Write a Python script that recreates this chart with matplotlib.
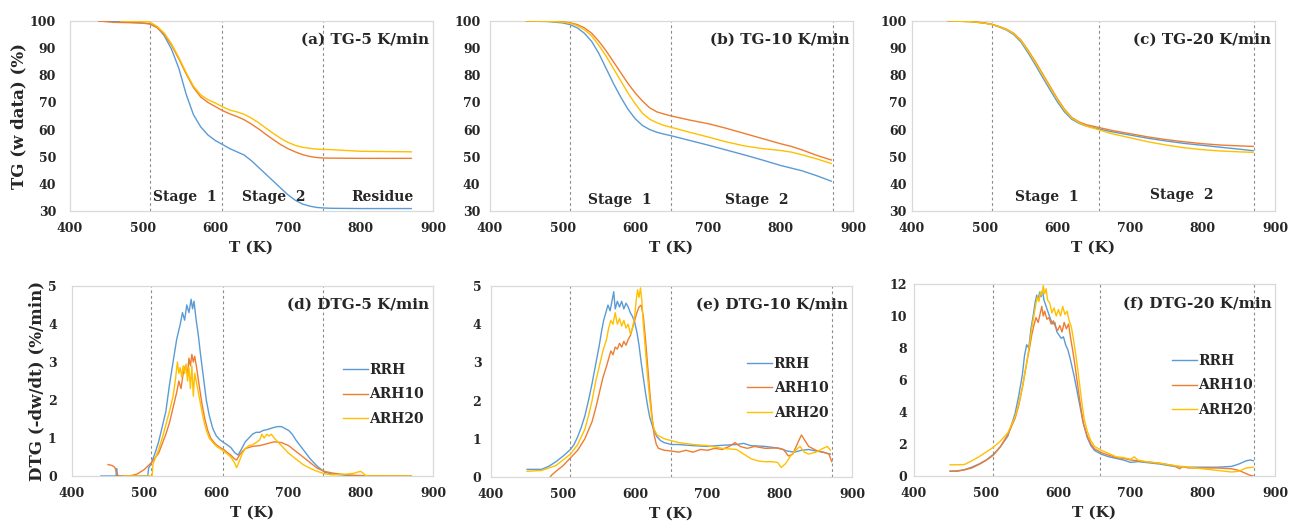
import matplotlib
matplotlib.use("Agg")
import matplotlib.pyplot as plt

# ---------------- data ----------------
series_names = ["RRH", "ARH10", "ARH20"]
series_colors = ["#5B9BD5", "#ED7D31", "#FFC000"]

# (a) TG 5 K/min
tg5_T = {
    "RRH": [440, 460, 480, 500, 510, 520, 530, 540, 550, 560, 570, 580, 590, 600, 610, 620, 630, 640, 650, 660,
            670, 680, 690, 700, 710, 720, 730, 740, 750, 760, 800, 870],
    "ARH10": [440, 460, 480, 500, 510, 520, 530, 540, 550, 560, 570, 580, 590, 600, 610, 620, 630, 640, 650, 660,
              670, 680, 690, 700, 710, 720, 730, 740, 750, 800, 870],
    "ARH20": [470, 480, 500, 510, 520, 530, 540, 550, 560, 570, 580, 590, 600, 610, 620, 630, 640, 650, 660, 670,
              680, 690, 700, 710, 720, 730, 740, 760, 800, 870],
}
tg5_w = {
    "RRH": [100, 99.8, 99.6, 99.3, 99.0, 97.8, 94.5, 89.5, 82.5, 73, 65.5, 61, 58, 56, 54.5, 53, 51.8, 50.6, 48.5, 46,
            43.5, 41, 38.5, 36, 34, 32.6, 31.8, 31.3, 31.1, 31, 30.9, 30.9],
    "ARH10": [100, 99.5, 99.4, 99.2, 98.9, 97.5, 95, 91, 86, 80.5, 75.5, 72, 70, 68.5, 67, 65.8, 64.8, 63.6, 62, 60.2,
              58.2, 56.3, 54.5, 53, 51.8, 50.8, 50.1, 49.7, 49.5, 49.4, 49.4],
    "ARH20": [100, 99.9, 99.8, 99.6, 98, 95.5, 91.5, 86.5, 81, 76, 72.8, 71, 69.8, 68.4, 67.2, 66.5, 65.6, 64.2, 62.5,
              60.5, 58.6, 56.8, 55.3, 54.2, 53.5, 53.1, 52.8, 52.6, 52, 51.8],
}

# (b) TG 10 K/min
tg10_T = [450, 480, 500, 510, 520, 530, 540, 550, 560, 570, 580, 590, 600, 610, 620, 630, 640, 650, 675, 700,
          725, 750, 775, 800, 815, 830, 850, 870]
tg10_w = {
    "RRH": [100, 99.8, 99.3, 98.7, 97.5, 95.5, 92.5, 88, 82.5, 77, 72, 67.5, 64, 61.5, 60, 59, 58.3, 57.7, 56, 54.3,
            52.5, 50.7, 48.8, 46.8, 45.8, 44.8, 43, 41],
    "ARH10": [100, 99.9, 99.7, 99.4, 98.7, 97.5, 95.5, 92.5, 89, 85, 81, 77, 73.5, 70.5, 68, 66.5, 65.7, 65, 63.5,
              62.2, 60.5, 58.6, 56.7, 54.8, 53.8, 52.5, 50.5, 48.8],
    "ARH20": [100, 99.9, 99.6, 99.2, 98.3, 96.8, 94.5, 91, 87, 82.5, 78, 73.5, 69.5, 66, 63.8, 62.5, 61.5, 60.8, 59,
              57.3, 55.5, 54, 53, 52.3, 51.7, 50.7, 49.2, 47.5],
}

# (c) TG 20 K/min
tg20_T = [450, 480, 500, 510, 520, 530, 540, 550, 560, 570, 580, 590, 600, 610, 620, 630, 640, 650, 675, 700,
          725, 750, 775, 800, 825, 850, 870]
tg20_w = {
    "RRH": [100, 99.8, 99.2, 98.7, 97.8, 96.7, 95, 92.3, 88.2, 83.8, 79.2, 74.7, 70.3, 66.5, 63.8, 62.3, 61.3, 60.7,
            59.2, 58, 56.8, 55.8, 54.9, 54.2, 53.5, 52.8, 52.2],
    "ARH10": [100, 99.8, 99.3, 98.8, 98, 97, 95.5, 93, 89.2, 85, 80.5, 76, 71.5, 67.5, 64.5, 62.8, 61.8, 61.2, 59.7,
              58.5, 57.3, 56.3, 55.5, 54.8, 54.3, 54, 53.8],
    "ARH20": [100, 99.8, 99.2, 98.7, 97.9, 96.9, 95.3, 92.8, 88.9, 84.6, 80.1, 75.6, 71.2, 67.2, 64.3, 62.5, 61.3,
              60.5, 58.5, 57, 55.5, 54.3, 53.3, 52.6, 52.1, 51.8, 51.6],
}

# (d) DTG 5 K/min
dtg5_T = {
    "RRH": [440, 461, 462, 463, 505, 506, 510, 515, 520, 525, 530, 535, 540, 545, 550, 553, 556, 559, 562, 565, 567,
            569, 572, 575, 578, 582, 586, 590, 595, 600, 605, 610, 615, 620, 625, 630, 635, 640, 645, 650, 655, 660,
            665, 670, 675, 680, 685, 690, 695, 700, 705, 710, 720, 730, 740, 750, 760, 780, 800, 870],
    "ARH10": [450, 455, 458, 460, 462, 465, 480, 490, 500, 510, 520, 530, 535, 540, 545, 548, 551, 554, 557, 560,
              562, 564, 566, 568, 570, 573, 576, 580, 584, 588, 592, 596, 600, 605, 610, 615, 620, 625, 628, 632,
              636, 640, 650, 660, 670, 680, 690, 700, 710, 720, 730, 740, 750, 760, 780, 800, 870],
    "ARH20": [470, 511, 512, 515, 520, 525, 530, 535, 540, 543, 546, 548, 550, 552, 554, 556, 558, 560, 562, 564,
              566, 568, 570, 572, 575, 578, 582, 586, 590, 595, 600, 605, 610, 615, 620, 625, 628, 632, 636, 640,
              645, 650, 655, 660, 663, 666, 670, 673, 676, 680, 685, 690, 700, 710, 720, 730, 740, 750, 760, 780,
              790, 795, 800, 803, 806, 810, 870],
}
dtg5_v = {
    "RRH": [0, 0, 0.2, 0, 0, 0.2, 0.35, 0.6, 0.9, 1.3, 1.7, 2.4, 3.0, 3.6, 4.0, 4.3, 4.1, 4.5, 4.3, 4.65, 4.4, 4.6,
            4.1, 3.7, 3.2, 2.6, 2.0, 1.6, 1.25, 1.05, 0.95, 0.88, 0.82, 0.75, 0.62, 0.55, 0.72, 0.9, 1.0, 1.1, 1.15,
            1.15, 1.2, 1.22, 1.25, 1.28, 1.3, 1.3, 1.25, 1.2, 1.1, 0.95, 0.7, 0.45, 0.25, 0.1, 0.05, 0.02, 0, 0],
    "ARH10": [0.3, 0.28, 0.25, 0.2, 0.05, 0, 0, 0.05, 0.17, 0.35, 0.6, 1.1, 1.4, 1.8, 2.2, 2.5, 2.3, 2.7, 2.9, 2.7,
              3.1, 2.9, 3.2, 3.0, 3.15, 2.8, 2.4, 1.9, 1.5, 1.2, 1.0, 0.9, 0.82, 0.75, 0.7, 0.62, 0.55, 0.45, 0.42,
              0.55, 0.65, 0.72, 0.78, 0.8, 0.85, 0.9, 0.88, 0.8, 0.65, 0.5, 0.35, 0.2, 0.12, 0.08, 0.03, 0.01, 0],
    "ARH20": [0, 0, 0.3, 0.45, 0.7, 1.0, 1.35, 1.7, 2.1, 2.5, 3.0, 2.7, 2.85, 2.6, 2.9, 2.7, 2.95, 2.5, 2.85, 2.3,
              2.9, 2.1, 2.7, 2.5, 2.2, 1.9, 1.5, 1.2, 1.0, 0.88, 0.78, 0.72, 0.65, 0.58, 0.5, 0.35, 0.22, 0.4, 0.6,
              0.72, 0.8, 0.82, 0.88, 0.95, 1.1, 1.0, 1.1, 1.05, 1.1, 1.0, 0.9, 0.8, 0.6, 0.45, 0.3, 0.2, 0.12, 0.06,
              0.03, 0.05, 0.07, 0.1, 0.12, 0.08, 0.02, 0, 0],
}

# (e) DTG 10 K/min
dtg10_T = {
    "RRH": [450, 470, 480, 490, 500, 510, 515, 520, 525, 530, 535, 540, 545, 550, 553, 556, 559, 562, 565, 568, 570,
            572, 575, 578, 581, 584, 587, 590, 593, 596, 599, 602, 605, 608, 611, 614, 617, 620, 625, 630, 635, 640,
            650, 660, 680, 700, 720, 740, 750, 760, 780, 800, 810, 820, 830, 840, 850, 860, 870],
    "ARH10": [482, 484, 490, 500, 510, 520, 530, 540, 545, 550, 555, 560, 563, 566, 569, 572, 575, 578, 581, 584,
              587, 590, 593, 596, 599, 602, 605, 608, 611, 614, 617, 620, 623, 626, 629, 632, 640, 650, 660, 670,
              680, 690, 700, 710, 720, 730, 738, 745, 755, 765, 780, 795, 805, 812, 818, 825, 830, 835, 840, 850,
              860, 868, 872],
    "ARH20": [450, 470, 490, 500, 510, 520, 530, 535, 540, 545, 550, 555, 560, 563, 566, 569, 572, 575, 578, 581,
              584, 587, 590, 593, 596, 599, 601, 603, 605, 607, 609, 611, 614, 617, 620, 623, 626, 630, 640, 650,
              660, 680, 700, 720, 740, 750, 760, 770, 780, 790, 797, 802, 808, 815, 822, 828, 834, 840, 850, 860,
              866, 870],
}
dtg10_v = {
    "RRH": [0.2, 0.2, 0.28, 0.4, 0.55, 0.72, 0.85, 1.05, 1.3, 1.6, 2.0, 2.45, 2.95, 3.45, 3.8, 4.1, 4.3, 4.5, 4.35,
            4.65, 4.85, 4.4, 4.6, 4.45, 4.6, 4.4, 4.55, 4.45, 4.3, 4.2, 4.05, 3.8, 3.45, 3.0, 2.6, 2.2, 1.85, 1.55,
            1.25, 1.05, 0.95, 0.9, 0.85, 0.85, 0.82, 0.8, 0.83, 0.85, 0.88, 0.82, 0.8, 0.75, 0.68, 0.65, 0.7, 0.72,
            0.68, 0.65, 0.6],
    "ARH10": [0, 0.05, 0.15, 0.3, 0.5, 0.7, 1.0, 1.45, 1.8, 2.2, 2.6, 2.9, 3.1, 3.3, 3.2, 3.4, 3.35, 3.5, 3.4, 3.55,
              3.45, 3.6, 3.7, 3.9, 4.1, 4.3, 4.45, 4.5, 4.2, 3.6, 2.9, 2.2, 1.6, 1.1, 0.85, 0.75, 0.7, 0.68, 0.65,
              0.7, 0.65, 0.72, 0.7, 0.75, 0.72, 0.8, 0.9, 0.8, 0.75, 0.8, 0.75, 0.76, 0.72, 0.55, 0.6, 0.9, 1.1,
              0.95, 0.8, 0.7, 0.65, 0.6, 0.4],
    "ARH20": [0.15, 0.17, 0.3, 0.45, 0.6, 0.85, 1.25, 1.6, 2.0, 2.5, 2.9, 3.3, 3.6, 3.9, 4.1, 4.0, 4.3, 4.0, 4.15,
              3.95, 4.1, 3.9, 4.0, 3.75, 3.9, 4.2, 4.6, 4.9, 4.7, 4.95, 4.6, 4.0, 3.3, 2.6, 2.0, 1.5, 1.25, 1.1, 1.0,
              0.95, 0.9, 0.85, 0.82, 0.75, 0.72, 0.6, 0.48, 0.42, 0.4, 0.4, 0.38, 0.25, 0.35, 0.55, 0.7, 0.8, 0.65,
              0.6, 0.65, 0.75, 0.8, 0.7],
}

# (f) DTG 20 K/min
dtg20_T = {
    "RRH": [450, 460, 470, 480, 490, 500, 510, 520, 530, 540, 545, 550, 553, 556, 559, 562, 565, 568, 570, 572, 574,
            576, 578, 580, 583, 586, 589, 592, 595, 598, 601, 604, 607, 610, 613, 616, 619, 622, 625, 628, 631, 634,
            637, 640, 645, 650, 660, 670, 680, 690, 700, 710, 720, 740, 760, 780, 800, 820, 840, 850, 860, 866, 870],
    "ARH10": [450, 460, 470, 480, 490, 500, 510, 520, 530, 540, 545, 550, 555, 560, 563, 566, 569, 572, 575, 577,
              579, 581, 584, 587, 590, 593, 596, 599, 602, 605, 608, 611, 614, 617, 620, 623, 626, 629, 632, 635,
              640, 645, 650, 660, 670, 680, 690, 700, 710, 720, 740, 760, 768, 772, 780, 800, 820, 840, 850, 860,
              865, 870],
    "ARH20": [450, 460, 470, 480, 490, 500, 510, 520, 530, 540, 545, 550, 555, 560, 563, 566, 569, 571, 573, 575,
              577, 579, 581, 583, 585, 588, 591, 594, 597, 600, 603, 606, 609, 612, 615, 618, 621, 624, 627, 630,
              633, 636, 640, 645, 650, 660, 670, 680, 690, 700, 705, 710, 720, 740, 760, 780, 800, 820, 840, 850,
              860, 870],
}
dtg20_v = {
    "RRH": [0.3, 0.32, 0.4, 0.55, 0.75, 1.0, 1.35, 1.85, 2.5, 3.9, 5.0, 6.3, 7.5, 8.2, 8.0, 9.2, 10.0, 10.9, 11.3,
            11.0, 11.5, 11.2, 11.6, 11.0, 10.6, 10.2, 9.8, 9.5, 9.6, 9.0, 8.8, 8.6, 8.7, 8.2, 7.9, 7.4, 6.8, 6.2,
            5.5, 4.8, 4.1, 3.4, 2.9, 2.4, 1.9, 1.6, 1.35, 1.2, 1.1, 1.0, 0.85, 0.9, 0.85, 0.75, 0.6, 0.55, 0.55,
            0.55, 0.6, 0.75, 0.95, 1.0, 0.95],
    "ARH10": [0.3, 0.3, 0.38, 0.5, 0.72, 0.98, 1.3, 1.85, 2.6, 3.6, 4.4, 5.5, 6.8, 8.0, 8.8, 9.4, 9.9, 9.6, 10.2,
              10.6, 10.0, 10.3, 9.8, 9.9, 9.5, 9.7, 9.3, 9.1, 9.4, 9.0, 9.6, 9.2, 9.5, 8.6, 7.8, 6.9, 5.9, 4.9, 4.0,
              3.2, 2.5, 2.0, 1.7, 1.45, 1.3, 1.15, 1.1, 1.0, 0.95, 0.9, 0.8, 0.65, 0.45, 0.6, 0.5, 0.5, 0.5, 0.45,
              0.35, 0.15, 0.05, 0],
    "ARH20": [0.7, 0.7, 0.72, 0.95, 1.2, 1.5, 1.8, 2.2, 2.7, 3.7, 4.5, 5.5, 6.8, 8.2, 9.2, 10.0, 10.8, 11.2, 10.9,
              11.5, 11.3, 11.9, 11.4, 11.7, 11.0, 10.8, 10.2, 10.5, 10.0, 10.4, 10.0, 10.6, 10.1, 10.3, 9.7, 9.3,
              8.5, 7.6, 6.6, 5.5, 4.4, 3.5, 2.8, 2.2, 1.85, 1.6, 1.4, 1.2, 1.15, 1.05, 1.2, 1.0, 0.9, 0.8, 0.65,
              0.55, 0.45, 0.35, 0.25, 0.3, 0.5, 0.55],
}

# stage boundaries (K)
stage_lines = {5: [510, 609, 748], 10: [510, 649, 872], 20: [510, 658, 871]}

# ---------------- layout ----------------
W, H = 1290, 530
fig = plt.figure(figsize=(W / 100, H / 100), dpi=100)
FONT = "DejaVu Serif"
TXT = "#262626"


def box(l, r, t, b):
    return [l / W, (H - b) / H, (r - l) / W, (b - t) / H]


def style(ax, ylim, yticks, ypad):
    ax.set_xlim(400, 900)
    ax.set_ylim(*ylim)
    ax.set_xticks(range(400, 901, 100))
    ax.set_yticks(yticks)
    for s in ax.spines.values():
        s.set_color("#d9d9d9")
        s.set_linewidth(0.9)
    ax.tick_params(length=0, labelsize=9, labelcolor=TXT)
    ax.tick_params(axis="x", pad=8)
    ax.tick_params(axis="y", pad=ypad)
    for lab in ax.get_xticklabels() + ax.get_yticklabels():
        lab.set_fontfamily(FONT)
        lab.set_fontweight("bold")
    ax.set_xlabel("T (K)", fontsize=11, fontweight="bold", family=FONT, color=TXT, labelpad=4)


def vlines(ax, rate):
    for x in stage_lines[rate]:
        ax.axvline(x, color="#8c8c8c", ls=(0, (2.5, 2.5)), lw=0.8, zorder=1)


def title(ax, s):
    ax.text(0.99, 0.9, s, transform=ax.transAxes, ha="right", va="center",
            fontsize=11, fontweight="bold", family=FONT, color=TXT)


def stage_text(ax, x, y, s):
    ax.text(x, y, s, ha="center", va="center", fontsize=10, fontweight="bold", family=FONT, color=TXT)


top_boxes = [box(70, 433, 21, 211), box(490, 853, 21, 211), box(912, 1275, 21, 211)]
bot_boxes = [box(72, 433, 286, 476), box(491, 852, 286, 477), box(914, 1275, 284, 476)]

# ---- TG row ----
ax = fig.add_axes(top_boxes[0])
for n, c in zip(series_names, series_colors):
    ax.plot(tg5_T[n], tg5_w[n], color=c, lw=1.0, zorder=3)
vlines(ax, 5)
style(ax, (30, 100), range(30, 101, 10), 10)
ax.set_ylabel("TG (w data) (%)", fontsize=12, fontweight="bold", family=FONT, color=TXT, labelpad=2)
title(ax, "(a) TG-5 K/min")
stage_text(ax, 558, 35, "Stage  1")
stage_text(ax, 680, 35, "Stage  2")
stage_text(ax, 830, 35, "Residue")

ax = fig.add_axes(top_boxes[1])
for n, c in zip(series_names, series_colors):
    ax.plot(tg10_T, tg10_w[n], color=c, lw=1.0, zorder=3)
vlines(ax, 10)
style(ax, (30, 100), range(30, 101, 10), 7)
title(ax, "(b) TG-10 K/min")
stage_text(ax, 579, 34, "Stage  1")
stage_text(ax, 768, 34, "Stage  2")

ax = fig.add_axes(top_boxes[2])
for n, c in zip(series_names, series_colors):
    ax.plot(tg20_T, tg20_w[n], color=c, lw=1.0, zorder=3)
vlines(ax, 20)
style(ax, (30, 100), range(30, 101, 10), 4)
title(ax, "(c) TG-20 K/min")
stage_text(ax, 586, 35, "Stage  1")
stage_text(ax, 772, 36, "Stage  2")

# ---- DTG row ----
dtg_sets = [(dtg5_T, dtg5_v, 5, (0, 5), range(0, 6), "(d) DTG-5 K/min", (0.75, 0.595), 11),
            (dtg10_T, dtg10_v, 10, (0, 5), range(0, 6), "(e) DTG-10 K/min", (0.71, 0.63), 7),
            (dtg20_T, dtg20_v, 20, (0, 12), range(0, 13, 2), "(f) DTG-20 K/min", (0.715, 0.635), 5)]

for i, (Ts, Vs, rate, ylim, yt, ttl, lpos, ypad) in enumerate(dtg_sets):
    ax = fig.add_axes(bot_boxes[i])
    for n, c in zip(series_names, series_colors):
        ax.plot(Ts[n], Vs[n], color=c, lw=1.0, label=n, zorder=3)
    vlines(ax, rate)
    style(ax, ylim, yt, ypad)
    title(ax, ttl)
    if i == 0:
        ax.set_ylabel("DTG (-dw/dt) (%/min)", fontsize=12, fontweight="bold", family=FONT, color=TXT, labelpad=2)
    leg = ax.legend(loc="upper left", bbox_to_anchor=lpos, frameon=False, borderpad=0, borderaxespad=0,
                    handlelength=1.8, handletextpad=0.1, labelspacing=0.75,
                    prop={"family": FONT, "weight": "bold", "size": 10})
    for t in leg.get_texts():
        t.set_color(TXT)

fig.savefig("out.png", dpi=100, facecolor="white")
